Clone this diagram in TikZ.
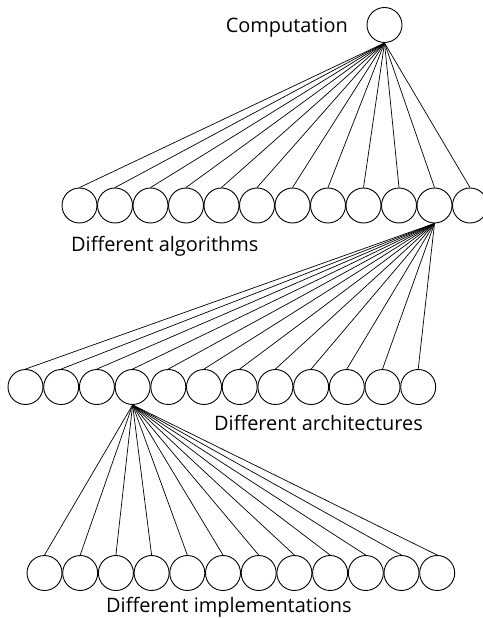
\documentclass[tikz,border=0pt]{standalone}
\usepackage{fontspec}
\setmainfont{Open Sans}
\begin{document}
\begin{tikzpicture}[x=1bp,y=-1bp,
  unit/.style={circle,draw,line width=0.9bp,minimum size=35bp,inner sep=0pt},
  link/.style={line width=0.7bp},
  caption/.style={font=\fontsize{20}{22}\selectfont,inner sep=0pt,anchor=base west}]
  \useasboundingbox (0,0) rectangle (483,618);
  \clip (0,0) rectangle (483,618);
  % root
  \node[unit] (root) at (384.5,25) {};
  \node[caption,anchor=base east] (lcomp) at (348,33) {Computation};
  % algorithms
  \foreach \i in {1,...,12}
    \node[unit] (a\i) at ({79.5+(\i-1)*35.5},205.5) {};
  \node[caption] (lalg) at (71,251) {Different algorithms};
  % architectures
  \foreach \i in {1,...,12}
    \node[unit] (b\i) at ({25.5+(\i-1)*35.7},387) {};
  \node[caption] (larch) at (214,430) {Different architectures};
  % implementations
  \foreach \i in {1,...,12}
    \node[unit] (c\i) at ({44.5+(\i-1)*35.7},573) {};
  \node[caption] (limp) at (106,612) {Different implementations};
  % fans
  \foreach \i in {1,...,12} {
    \draw[link] (root.south) -- (a\i.north);
    \draw[link] (a11.south) -- (b\i.north);
    \draw[link] (b4.south) -- (c\i.north);
  }
\end{tikzpicture}
\end{document}
